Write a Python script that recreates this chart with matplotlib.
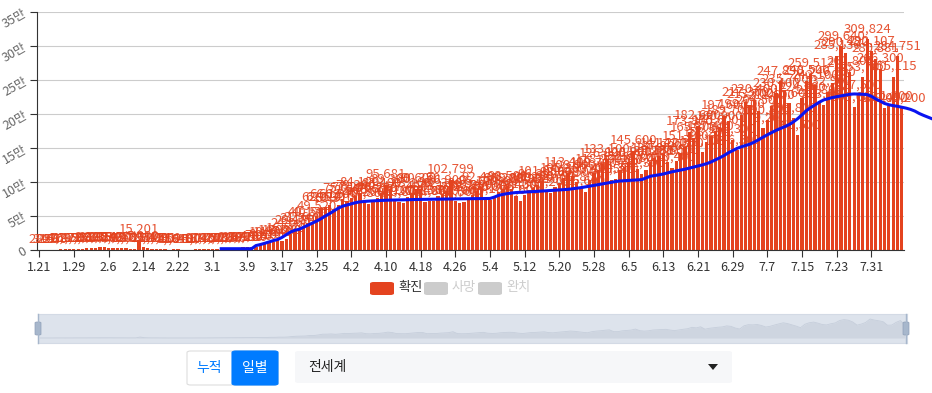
import matplotlib
matplotlib.use('Agg')
import matplotlib.pyplot as plt
from matplotlib.patches import FancyBboxPatch, Polygon
import numpy as np

plt.rcParams['font.family'] = ['Noto Sans CJK KR', 'DejaVu Sans']

# 일별 확진자 (전세계), 2020.1.21 ~ 8.7
confirmed = [
    # 1.21 - 1.31
    282, 314, 259, 457, 688, 769, 1771, 1459, 1737, 1981, 2099,
    # 2.1 - 2.29
    2589, 2825, 3235, 3884, 3694, 3143, 3385, 2657, 3073, 2478, 2015, 2055,
    15201, 5090, 2641, 2009, 2051, 1891, 1750, 458, 1025, 1010, 648, 416,
    617, 879, 1040, 1410, 1750,
    # 3.1 - 3.31
    1800, 1920, 2210, 2360, 2240, 2790, 3640, 3720, 3950, 4120, 4720, 7010,
    8210, 10900, 11040, 14020, 13300, 16520, 24060, 29180, 31540, 32620,
    40170, 40540, 49520, 62010, 62530, 66120, 60310, 66540, 75010,
    # 4.1 - 4.30
    72500, 77200, 79300, 84100, 70200, 67800, 73600, 76200, 83400, 95681,
    89300, 72100, 71200, 69800, 77400, 83200, 89600, 90350, 70400, 72300,
    71800, 79100, 82300, 86900, 102799, 72400, 69500, 70600, 76300, 80200,
    # 5.1 - 5.31
    86100, 92400, 78300, 74100, 76800, 85900, 90200, 93500, 89800, 79400,
    72600, 81300, 88900, 91200, 96300, 101090, 88500, 84200, 92700, 98600,
    105300, 113400, 108900, 99500, 91800, 85600, 103400, 112700, 118200,
    126800, 133100,
    # 6.1 - 6.30
    103500, 104300, 117200, 122600, 128900, 145600, 119800, 112300, 117400,
    130100, 134800, 137900, 141200, 129600, 120400, 131500, 142300, 151400,
    173800, 165300, 182600, 144100, 158200, 167400, 175600, 180900, 197600,
    189700, 162300, 146500,
    # 7.1 - 7.31
    199100, 217300, 213700, 220400, 204500, 179200, 190800, 211600, 230400,
    247890, 235700, 215600, 193800, 168500, 224200, 248500, 259512, 242100,
    219800, 213400, 232900, 246300, 285130, 299640, 290420, 261800, 209600,
    227500, 253700, 309824, 292107,
    # 8.1 - 8.7
    280881, 266300, 208400, 211200, 255115, 284751, 208200,
]

# 이동평균선 (3.4 부터)
AVG_START = 42
avg_line = [
    1900, 1900, 1900, 1900, 1900, 1900, 1900, 1900,
    6500, 8000, 9800, 11800, 13800, 15400, 18500, 22500, 26500, 29000,
    30500, 33500, 36500, 39500, 42500, 46000, 50000, 53500, 57500, 61500,
    64500, 66200, 68000, 69600, 70800, 71400, 71900, 72300, 72600, 72900,
    73200, 73400, 73500, 73700, 73800, 74000, 74100, 74300, 74400, 74500,
    74600, 74700, 74800, 74900, 75000, 75100, 75200, 75300, 75300, 75400,
    75500, 75500, 75600, 75700, 75800, 77800, 80400, 81800, 82900, 83800,
    84500, 84900, 85300, 85600, 85900, 86300, 86700, 87100, 87500, 87900,
    88400, 88800, 89200, 90000, 90800, 91700, 92800, 93900, 95000, 96100,
    97300, 98400, 99600, 100700, 101500, 101900, 102300, 102700, 103100,
    103500, 106000, 108500, 109500, 110600, 111800, 113500, 115000, 116300,
    117600, 118900, 120400, 122000, 123600, 125200, 127000, 129500, 132500,
    135600, 139000, 143000, 146200, 149500, 151800, 153800, 155800, 158800,
    162300, 166000, 169500, 172800, 176000, 178700, 181400, 184400, 188500,
    193300, 199000, 205000, 209500, 213500, 217500, 220800, 222500, 224200,
    225500, 226600, 227800, 229000, 229500, 229300, 229000, 228500, 226000,
    222000, 219000, 215500, 213600, 212300, 211300, 210000, 208600, 206800,
    204300, 200800, 198000, 195500, 192900,
]

tick_labels = ['1.21', '1.29', '2.6', '2.14', '2.22', '3.1', '3.9', '3.17',
               '3.25', '4.2', '4.10', '4.18', '4.26', '5.4', '5.12', '5.20',
               '5.28', '6.5', '6.13', '6.21', '6.29', '7.7', '7.15', '7.23',
               '7.31']
legend_names = ['확진', '사망', '완치']

RED = '#e4431f'
BLUE = '#0a14f0'
W, H = 932, 393

fig = plt.figure(figsize=(W / 100, H / 100), dpi=100)
fig.patch.set_facecolor('white')


def fx(px):
    return px / W


def fy(py):
    return 1 - py / H


ax = fig.add_axes([fx(37), fy(250), fx(904) - fx(37), fy(12) - fy(250)])
x = np.arange(len(confirmed))
ax.bar(x, confirmed, width=0.76, color=RED, zorder=2)
for xi, v in zip(x, confirmed):
    ax.annotate(f'{v:,}', (xi, v), xytext=(0, 4), textcoords='offset pixels',
                ha='center', va='bottom', fontsize=9.5, color=RED, alpha=0.9,
                zorder=3, annotation_clip=False)

xa = np.arange(AVG_START, AVG_START + len(avg_line))
ax.plot(xa, avg_line, color=BLUE, lw=2.2, zorder=4, clip_on=False,
        solid_joinstyle='round')

ax.set_xlim(-0.5, len(confirmed) - 0.5)
ax.set_ylim(0, 350000)
ax.set_yticks(np.arange(0, 350001, 50000))
ax.set_yticklabels(['0' if v == 0 else f'{v // 10000}만'
                    for v in range(0, 350001, 50000)],
                   rotation=30, rotation_mode='anchor', ha='right',
                   va='center', color='#666666', fontsize=9)
ax.set_xticks(np.arange(0, len(confirmed), 8))
ax.set_xticklabels(tick_labels, color='#333333', fontsize=9)
ax.grid(axis='y', color='#cccccc', lw=0.8, zorder=0)
ax.set_axisbelow(True)
for s in ['top', 'right']:
    ax.spines[s].set_visible(False)
for s in ['left', 'bottom']:
    ax.spines[s].set_color('#333333')
ax.tick_params(axis='both', length=5, color='#333333', pad=3)

# 범례
legend_cols = [RED, '#cccccc', '#cccccc']
legend_txt = ['#333333', '#cccccc', '#cccccc']
for i, (name, c, tc) in enumerate(zip(legend_names, legend_cols, legend_txt)):
    x0 = 370 + i * 54
    fig.patches.append(FancyBboxPatch(
        (fx(x0), fy(295)), fx(24), fy(282) - fy(295),
        boxstyle='round,pad=0,rounding_size=0.004', transform=fig.transFigure,
        facecolor=c, edgecolor='none'))
    fig.text(fx(x0 + 28), fy(288), name, color=tc, fontsize=9.5,
             va='center', ha='left')

# 데이터줌 슬라이더
sax = fig.add_axes([fx(38), fy(343), fx(907) - fx(38), fy(314) - fy(343)])
sax.set_facecolor('#dde3ec')
mx = max(confirmed)
sax.fill_between(x, confirmed, color='#ced5e0', lw=0)
sax.plot(x, confirmed, color='#c6cedb', lw=0.6)
sax.set_xlim(-0.5, len(confirmed) - 0.5)
sax.set_ylim(-mx * 5 / 19, mx * 24 / 19)
sax.set_xticks([])
sax.set_yticks([])
for s in sax.spines.values():
    s.set_color('#d3dae5')
    s.set_linewidth(0.8)
for hx in [38, 906]:
    fig.lines.append(plt.Line2D([fx(hx), fx(hx)], [fy(314), fy(343)],
                                transform=fig.transFigure, color='#a7b7cc',
                                lw=1))
    fig.patches.append(FancyBboxPatch(
        (fx(hx - 3), fy(335)), fx(6), fy(322) - fy(335),
        boxstyle='round,pad=0,rounding_size=0.002', transform=fig.transFigure,
        facecolor='#a7b7cc', edgecolor='#8fa0b8', lw=0.5))

# 버튼
fig.patches.append(FancyBboxPatch(
    (fx(187), fy(385)), fx(91), fy(351) - fy(385),
    boxstyle='round,pad=0,rounding_size=0.004', transform=fig.transFigure,
    facecolor='white', edgecolor='#dddddd', lw=0.8))
fig.patches.append(FancyBboxPatch(
    (fx(232), fy(385)), fx(46), fy(351) - fy(385),
    boxstyle='round,pad=0,rounding_size=0.004', transform=fig.transFigure,
    facecolor='#007bff', edgecolor='#007bff', lw=0.8))
fig.text(fx(209.5), fy(368), '누적', color='#007bff', fontsize=10,
         ha='center', va='center')
fig.text(fx(255), fy(368), '일별', color='white', fontsize=10,
         ha='center', va='center')

# 드롭다운
fig.patches.append(FancyBboxPatch(
    (fx(295), fy(383)), fx(437), fy(351) - fy(383),
    boxstyle='round,pad=0,rounding_size=0.004', transform=fig.transFigure,
    facecolor='#f6f7f9', edgecolor='none'))
fig.text(fx(308), fy(367), '전세계', color='#222222', fontsize=10,
         ha='left', va='center')
fig.patches.append(Polygon(
    [(fx(708), fy(364)), (fx(718), fy(364)), (fx(713), fy(370))],
    closed=True, transform=fig.transFigure, facecolor='#222222',
    edgecolor='none'))

fig.savefig('out.png', dpi=100, facecolor='white')
